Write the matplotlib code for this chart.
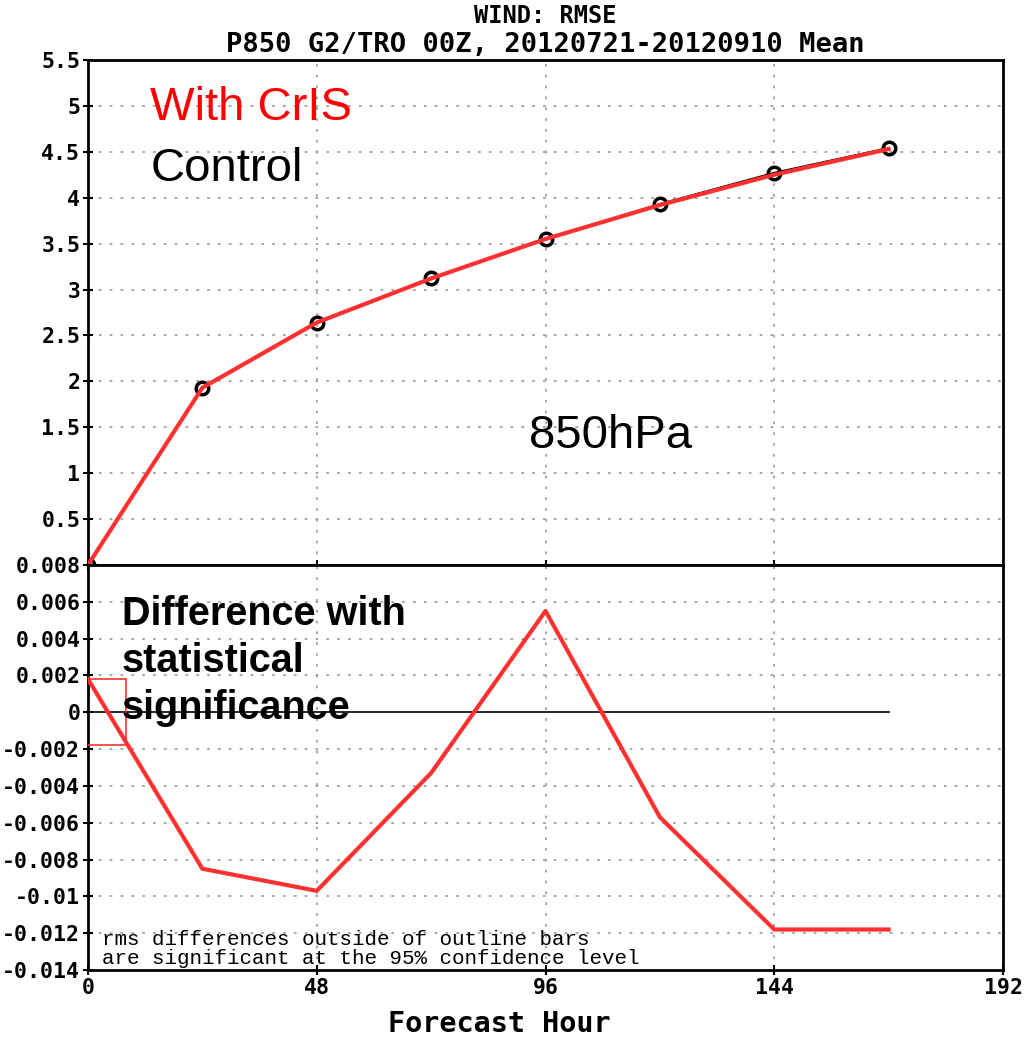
import numpy as np
import matplotlib
matplotlib.use("Agg")
import matplotlib.pyplot as plt

hours = [0, 24, 48, 72, 96, 120, 144, 168]
rmse_ctl = [0.0, 1.93, 2.64, 3.12, 3.55, 3.93, 4.27, 4.54]
rmse_cris = [0.0, 1.93, 2.64, 3.12, 3.55, 3.92, 4.25, 4.53]
diff = [0.0018, -0.0085, -0.0097, -0.0033, 0.0055, -0.0057, -0.0118, -0.0118]
sig_hours = [0]
sig_bars = [0.0018]

top_ticks = [0.5, 1, 1.5, 2, 2.5, 3, 3.5, 4, 4.5, 5, 5.5]
top_labels = ["0.5", "1", "1.5", "2", "2.5", "3", "3.5", "4", "4.5", "5", "5.5"]
bot_ticks = [-0.014, -0.012, -0.01, -0.008, -0.006, -0.004, -0.002, 0, 0.002, 0.004, 0.006, 0.008]
bot_labels = ["-0.014", "-0.012", "-0.01", "-0.008", "-0.006", "-0.004", "-0.002", "0",
              "0.002", "0.004", "0.006", "0.008"]
x_ticks = [0, 48, 96, 144, 192]

mono = "DejaVu Sans Mono"
grid_kw = dict(color="#a0a0a0", linestyle=(0, (1.5, 4.5)), linewidth=1.3)

fig = plt.figure(figsize=(10.28, 10.41), dpi=100)
ax1 = fig.add_axes([0.0856, 0.4573, 0.8901, 0.4851])
ax2 = fig.add_axes([0.0856, 0.0682, 0.8901, 0.3891])

for ax in (ax1, ax2):
    ax.set_xlim(0, 192)
    ax.set_xticks(x_ticks)
    for s in ax.spines.values():
        s.set_linewidth(2)
    ax.tick_params(direction="inout", length=7, width=1.5, pad=2)
    for xv in x_ticks[1:-1]:
        ax.axvline(xv, zorder=0, **grid_kw)

# upper panel: RMSE
ax1.set_ylim(0, 5.5)
ax1.set_yticks(top_ticks)
ax1.set_yticklabels(top_labels, fontfamily=mono, fontweight="bold", fontsize=15.5)
ax1.tick_params(labelbottom=False)
for yv in top_ticks[:-1]:
    ax1.axhline(yv, zorder=0, **grid_kw)
ax1.plot(hours, rmse_ctl, color="black", lw=1.6, marker="o", ms=9,
         mfc="none", mec="black", mew=2.5, zorder=3)
ax1.plot(hours, rmse_cris, color="#ff3030", lw=3, zorder=4)
ax1.text(0.068, 0.905, "With CrIS", transform=ax1.transAxes, color="red",
         fontsize=34, fontfamily="Liberation Sans", va="center")
ax1.text(0.068, 0.785, "Control", transform=ax1.transAxes, color="black",
         fontsize=34, fontfamily="Liberation Sans", va="center")
ax1.text(0.482, 0.255, "850hPa", transform=ax1.transAxes, color="black",
         fontsize=34, fontfamily="Liberation Sans", va="center")

# lower panel: difference
ax2.set_ylim(-0.014, 0.008)
ax2.set_yticks(bot_ticks)
ax2.set_yticklabels(bot_labels, fontfamily=mono, fontweight="bold", fontsize=15.5)
ax2.set_xticklabels([str(v) for v in x_ticks], fontfamily=mono,
                    fontweight="bold", fontsize=15.5)
for yv in bot_ticks[1:-1]:
    if yv != 0:
        ax2.axhline(yv, zorder=0, **grid_kw)
ax2.plot([hours[0], hours[-1]], [0, 0], color="black", lw=1.2, zorder=2)
ax2.bar(sig_hours, [2 * b for b in sig_bars], bottom=[-b for b in sig_bars],
        width=16, fill=False, edgecolor="#ff3030", linewidth=1.2, zorder=3)
ax2.plot(hours, diff, color="#ff3030", lw=3, zorder=4)
ax2.text(0.037, 0.925, "Difference with\nstatistical\nsignificance",
         transform=ax2.transAxes, fontsize=28.5, fontweight="bold",
         fontfamily="Liberation Sans", va="top", linespacing=1.3)
ax2.text(0.015, 0.052, "rms differences outside of outline bars\n"
         "are significant at the 95% confidence level",
         transform=ax2.transAxes, fontsize=15, fontfamily="Liberation Mono",
         va="center", linespacing=1.0)

fig.text(0.53, 0.985, "WIND: RMSE", ha="center", va="center",
         fontsize=17, fontfamily=mono, fontweight="bold")
fig.text(0.53, 0.957, "P850 G2/TRO 00Z, 20120721-20120910 Mean", ha="center",
         va="center", fontsize=19.5, fontfamily=mono, fontweight="bold")
fig.text(0.486, 0.016, "Forecast Hour", ha="center", va="center",
         fontsize=20.5, fontfamily=mono, fontweight="bold")

fig.savefig("out.png", dpi=100)
